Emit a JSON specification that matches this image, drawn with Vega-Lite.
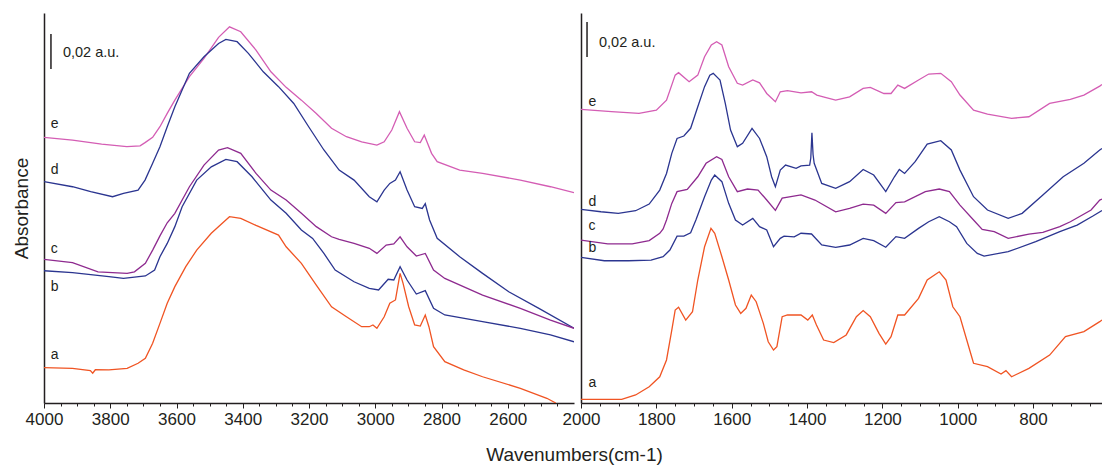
{
  "$schema": "https://vega.github.io/schema/vega-lite/v6.json",
  "background": "white",
  "padding": {"left": 12, "top": 13, "right": 0, "bottom": 4},
  "bounds": "flush",
  "spacing": 7,
  "config": {
    "view": {"stroke": null},
    "font": "Liberation Sans",
    "axis": {
      "grid": false,
      "domainColor": "#231f20",
      "domainWidth": 1.5,
      "tickColor": "#231f20",
      "tickWidth": 1,
      "labelFont": "Liberation Sans",
      "labelFontSize": 17,
      "labelColor": "#231f20",
      "titleFont": "Liberation Sans",
      "titleFontWeight": "normal",
      "titleColor": "#231f20"
    }
  },
  "datasets": {
    "left": [
      {"sample": "e", "wavenumber": 4000, "absorbance": 0.1518},
      {"sample": "e", "wavenumber": 3914, "absorbance": 0.1503},
      {"sample": "e", "wavenumber": 3826, "absorbance": 0.1480},
      {"sample": "e", "wavenumber": 3750, "absorbance": 0.1465},
      {"sample": "e", "wavenumber": 3710, "absorbance": 0.1470},
      {"sample": "e", "wavenumber": 3695, "absorbance": 0.1488},
      {"sample": "e", "wavenumber": 3672, "absorbance": 0.1518},
      {"sample": "e", "wavenumber": 3650, "absorbance": 0.1579},
      {"sample": "e", "wavenumber": 3628, "absorbance": 0.1655},
      {"sample": "e", "wavenumber": 3605, "absorbance": 0.1731},
      {"sample": "e", "wavenumber": 3561, "absorbance": 0.1865},
      {"sample": "e", "wavenumber": 3517, "absorbance": 0.1970},
      {"sample": "e", "wavenumber": 3473, "absorbance": 0.2090},
      {"sample": "e", "wavenumber": 3440, "absorbance": 0.2150},
      {"sample": "e", "wavenumber": 3406, "absorbance": 0.2122},
      {"sample": "e", "wavenumber": 3360, "absorbance": 0.2017},
      {"sample": "e", "wavenumber": 3315, "absorbance": 0.1893},
      {"sample": "e", "wavenumber": 3269, "absorbance": 0.1804},
      {"sample": "e", "wavenumber": 3223, "absorbance": 0.1731},
      {"sample": "e", "wavenumber": 3178, "absorbance": 0.1655},
      {"sample": "e", "wavenumber": 3132, "absorbance": 0.1570},
      {"sample": "e", "wavenumber": 3087, "absorbance": 0.1522},
      {"sample": "e", "wavenumber": 3041, "absorbance": 0.1493},
      {"sample": "e", "wavenumber": 2995, "absorbance": 0.1474},
      {"sample": "e", "wavenumber": 2973, "absorbance": 0.1493},
      {"sample": "e", "wavenumber": 2950, "absorbance": 0.1560},
      {"sample": "e", "wavenumber": 2927, "absorbance": 0.1665},
      {"sample": "e", "wavenumber": 2904, "absorbance": 0.1570},
      {"sample": "e", "wavenumber": 2881, "absorbance": 0.1493},
      {"sample": "e", "wavenumber": 2864, "absorbance": 0.1488},
      {"sample": "e", "wavenumber": 2852, "absorbance": 0.1531},
      {"sample": "e", "wavenumber": 2830, "absorbance": 0.1427},
      {"sample": "e", "wavenumber": 2813, "absorbance": 0.1379},
      {"sample": "e", "wavenumber": 2745, "absorbance": 0.1331},
      {"sample": "e", "wavenumber": 2676, "absorbance": 0.1312},
      {"sample": "e", "wavenumber": 2562, "absorbance": 0.1274},
      {"sample": "e", "wavenumber": 2471, "absorbance": 0.1236},
      {"sample": "e", "wavenumber": 2400, "absorbance": 0.1202},

      {"sample": "d", "wavenumber": 4000, "absorbance": 0.1265},
      {"sample": "d", "wavenumber": 3914, "absorbance": 0.1236},
      {"sample": "d", "wavenumber": 3859, "absorbance": 0.1208},
      {"sample": "d", "wavenumber": 3793, "absorbance": 0.1179},
      {"sample": "d", "wavenumber": 3760, "absorbance": 0.1198},
      {"sample": "d", "wavenumber": 3716, "absorbance": 0.1217},
      {"sample": "d", "wavenumber": 3695, "absorbance": 0.1274},
      {"sample": "d", "wavenumber": 3672, "absorbance": 0.1370},
      {"sample": "d", "wavenumber": 3650, "absorbance": 0.1465},
      {"sample": "d", "wavenumber": 3628, "absorbance": 0.1579},
      {"sample": "d", "wavenumber": 3605, "absorbance": 0.1693},
      {"sample": "d", "wavenumber": 3583, "absorbance": 0.1789},
      {"sample": "d", "wavenumber": 3561, "absorbance": 0.1884},
      {"sample": "d", "wavenumber": 3517, "absorbance": 0.1979},
      {"sample": "d", "wavenumber": 3473, "absorbance": 0.2055},
      {"sample": "d", "wavenumber": 3451, "absorbance": 0.2078},
      {"sample": "d", "wavenumber": 3417, "absorbance": 0.2065},
      {"sample": "d", "wavenumber": 3383, "absorbance": 0.1998},
      {"sample": "d", "wavenumber": 3338, "absorbance": 0.1893},
      {"sample": "d", "wavenumber": 3292, "absorbance": 0.1808},
      {"sample": "d", "wavenumber": 3246, "absorbance": 0.1712},
      {"sample": "d", "wavenumber": 3201, "absorbance": 0.1579},
      {"sample": "d", "wavenumber": 3155, "absorbance": 0.1446},
      {"sample": "d", "wavenumber": 3109, "absorbance": 0.1331},
      {"sample": "d", "wavenumber": 3064, "absorbance": 0.1274},
      {"sample": "d", "wavenumber": 3018, "absorbance": 0.1179},
      {"sample": "d", "wavenumber": 2995, "absorbance": 0.1150},
      {"sample": "d", "wavenumber": 2973, "absorbance": 0.1217},
      {"sample": "d", "wavenumber": 2956, "absorbance": 0.1255},
      {"sample": "d", "wavenumber": 2939, "absorbance": 0.1274},
      {"sample": "d", "wavenumber": 2925, "absorbance": 0.1322},
      {"sample": "d", "wavenumber": 2904, "absorbance": 0.1217},
      {"sample": "d", "wavenumber": 2881, "absorbance": 0.1122},
      {"sample": "d", "wavenumber": 2858, "absorbance": 0.1112},
      {"sample": "d", "wavenumber": 2849, "absorbance": 0.1139},
      {"sample": "d", "wavenumber": 2836, "absorbance": 0.1046},
      {"sample": "d", "wavenumber": 2813, "absorbance": 0.0941},
      {"sample": "d", "wavenumber": 2745, "absorbance": 0.0836},
      {"sample": "d", "wavenumber": 2676, "absorbance": 0.0741},
      {"sample": "d", "wavenumber": 2597, "absorbance": 0.0636},
      {"sample": "d", "wavenumber": 2506, "absorbance": 0.0541},
      {"sample": "d", "wavenumber": 2400, "absorbance": 0.0427},

      {"sample": "c", "wavenumber": 4000, "absorbance": 0.0821},
      {"sample": "c", "wavenumber": 3914, "absorbance": 0.0802},
      {"sample": "c", "wavenumber": 3837, "absorbance": 0.0750},
      {"sample": "c", "wavenumber": 3749, "absorbance": 0.0741},
      {"sample": "c", "wavenumber": 3727, "absorbance": 0.0750},
      {"sample": "c", "wavenumber": 3694, "absorbance": 0.0798},
      {"sample": "c", "wavenumber": 3672, "absorbance": 0.0874},
      {"sample": "c", "wavenumber": 3650, "absorbance": 0.0955},
      {"sample": "c", "wavenumber": 3628, "absorbance": 0.1030},
      {"sample": "c", "wavenumber": 3605, "absorbance": 0.1084},
      {"sample": "c", "wavenumber": 3561, "absorbance": 0.1236},
      {"sample": "c", "wavenumber": 3517, "absorbance": 0.1360},
      {"sample": "c", "wavenumber": 3473, "absorbance": 0.1446},
      {"sample": "c", "wavenumber": 3446, "absorbance": 0.1459},
      {"sample": "c", "wavenumber": 3406, "absorbance": 0.1427},
      {"sample": "c", "wavenumber": 3360, "absorbance": 0.1312},
      {"sample": "c", "wavenumber": 3315, "absorbance": 0.1217},
      {"sample": "c", "wavenumber": 3269, "absorbance": 0.1160},
      {"sample": "c", "wavenumber": 3223, "absorbance": 0.1084},
      {"sample": "c", "wavenumber": 3178, "absorbance": 0.1008},
      {"sample": "c", "wavenumber": 3132, "absorbance": 0.0950},
      {"sample": "c", "wavenumber": 3109, "absorbance": 0.0935},
      {"sample": "c", "wavenumber": 3064, "absorbance": 0.0912},
      {"sample": "c", "wavenumber": 3018, "absorbance": 0.0884},
      {"sample": "c", "wavenumber": 2995, "absorbance": 0.0855},
      {"sample": "c", "wavenumber": 2967, "absorbance": 0.0903},
      {"sample": "c", "wavenumber": 2944, "absorbance": 0.0909},
      {"sample": "c", "wavenumber": 2925, "absorbance": 0.0950},
      {"sample": "c", "wavenumber": 2904, "absorbance": 0.0893},
      {"sample": "c", "wavenumber": 2876, "absorbance": 0.0840},
      {"sample": "c", "wavenumber": 2849, "absorbance": 0.0855},
      {"sample": "c", "wavenumber": 2824, "absorbance": 0.0760},
      {"sample": "c", "wavenumber": 2790, "absorbance": 0.0712},
      {"sample": "c", "wavenumber": 2676, "absorbance": 0.0617},
      {"sample": "c", "wavenumber": 2562, "absorbance": 0.0541},
      {"sample": "c", "wavenumber": 2471, "absorbance": 0.0474},
      {"sample": "c", "wavenumber": 2400, "absorbance": 0.0427},

      {"sample": "b", "wavenumber": 4000, "absorbance": 0.0756},
      {"sample": "b", "wavenumber": 3914, "absorbance": 0.0745},
      {"sample": "b", "wavenumber": 3804, "absorbance": 0.0722},
      {"sample": "b", "wavenumber": 3760, "absorbance": 0.0712},
      {"sample": "b", "wavenumber": 3694, "absorbance": 0.0726},
      {"sample": "b", "wavenumber": 3666, "absorbance": 0.0760},
      {"sample": "b", "wavenumber": 3650, "absorbance": 0.0836},
      {"sample": "b", "wavenumber": 3628, "absorbance": 0.0912},
      {"sample": "b", "wavenumber": 3605, "absorbance": 0.1008},
      {"sample": "b", "wavenumber": 3583, "absorbance": 0.1122},
      {"sample": "b", "wavenumber": 3539, "absorbance": 0.1274},
      {"sample": "b", "wavenumber": 3495, "absorbance": 0.1350},
      {"sample": "b", "wavenumber": 3451, "absorbance": 0.1392},
      {"sample": "b", "wavenumber": 3417, "absorbance": 0.1379},
      {"sample": "b", "wavenumber": 3372, "absorbance": 0.1293},
      {"sample": "b", "wavenumber": 3315, "absorbance": 0.1160},
      {"sample": "b", "wavenumber": 3269, "absorbance": 0.1084},
      {"sample": "b", "wavenumber": 3223, "absorbance": 0.0989},
      {"sample": "b", "wavenumber": 3189, "absorbance": 0.0941},
      {"sample": "b", "wavenumber": 3155, "absorbance": 0.0855},
      {"sample": "b", "wavenumber": 3121, "absorbance": 0.0760},
      {"sample": "b", "wavenumber": 3064, "absorbance": 0.0693},
      {"sample": "b", "wavenumber": 3018, "absorbance": 0.0655},
      {"sample": "b", "wavenumber": 2990, "absorbance": 0.0646},
      {"sample": "b", "wavenumber": 2961, "absorbance": 0.0707},
      {"sample": "b", "wavenumber": 2944, "absorbance": 0.0703},
      {"sample": "b", "wavenumber": 2925, "absorbance": 0.0779},
      {"sample": "b", "wavenumber": 2904, "absorbance": 0.0703},
      {"sample": "b", "wavenumber": 2876, "absorbance": 0.0623},
      {"sample": "b", "wavenumber": 2849, "absorbance": 0.0642},
      {"sample": "b", "wavenumber": 2824, "absorbance": 0.0541},
      {"sample": "b", "wavenumber": 2790, "absorbance": 0.0503},
      {"sample": "b", "wavenumber": 2676, "absorbance": 0.0465},
      {"sample": "b", "wavenumber": 2562, "absorbance": 0.0427},
      {"sample": "b", "wavenumber": 2471, "absorbance": 0.0389},
      {"sample": "b", "wavenumber": 2400, "absorbance": 0.0350},

      {"sample": "a", "wavenumber": 4000, "absorbance": 0.0202},
      {"sample": "a", "wavenumber": 3914, "absorbance": 0.0198},
      {"sample": "a", "wavenumber": 3860, "absorbance": 0.0185},
      {"sample": "a", "wavenumber": 3853, "absorbance": 0.0170},
      {"sample": "a", "wavenumber": 3845, "absorbance": 0.0190},
      {"sample": "a", "wavenumber": 3804, "absorbance": 0.0189},
      {"sample": "a", "wavenumber": 3749, "absorbance": 0.0198},
      {"sample": "a", "wavenumber": 3716, "absorbance": 0.0227},
      {"sample": "a", "wavenumber": 3694, "absorbance": 0.0255},
      {"sample": "a", "wavenumber": 3672, "absorbance": 0.0341},
      {"sample": "a", "wavenumber": 3650, "absorbance": 0.0455},
      {"sample": "a", "wavenumber": 3628, "absorbance": 0.0570},
      {"sample": "a", "wavenumber": 3605, "absorbance": 0.0665},
      {"sample": "a", "wavenumber": 3572, "absorbance": 0.0779},
      {"sample": "a", "wavenumber": 3539, "absorbance": 0.0874},
      {"sample": "a", "wavenumber": 3495, "absorbance": 0.0970},
      {"sample": "a", "wavenumber": 3451, "absorbance": 0.1046},
      {"sample": "a", "wavenumber": 3440, "absorbance": 0.1065},
      {"sample": "a", "wavenumber": 3406, "absorbance": 0.1055},
      {"sample": "a", "wavenumber": 3360, "absorbance": 0.1015},
      {"sample": "a", "wavenumber": 3292, "absorbance": 0.0960},
      {"sample": "a", "wavenumber": 3269, "absorbance": 0.0893},
      {"sample": "a", "wavenumber": 3223, "absorbance": 0.0798},
      {"sample": "a", "wavenumber": 3178, "absorbance": 0.0674},
      {"sample": "a", "wavenumber": 3132, "absorbance": 0.0550},
      {"sample": "a", "wavenumber": 3087, "absorbance": 0.0493},
      {"sample": "a", "wavenumber": 3041, "absorbance": 0.0436},
      {"sample": "a", "wavenumber": 3018, "absorbance": 0.0436},
      {"sample": "a", "wavenumber": 3007, "absorbance": 0.0446},
      {"sample": "a", "wavenumber": 2995, "absorbance": 0.0427},
      {"sample": "a", "wavenumber": 2973, "absorbance": 0.0493},
      {"sample": "a", "wavenumber": 2956, "absorbance": 0.0570},
      {"sample": "a", "wavenumber": 2939, "absorbance": 0.0589},
      {"sample": "a", "wavenumber": 2925, "absorbance": 0.0741},
      {"sample": "a", "wavenumber": 2916, "absorbance": 0.0684},
      {"sample": "a", "wavenumber": 2899, "absorbance": 0.0550},
      {"sample": "a", "wavenumber": 2881, "absorbance": 0.0446},
      {"sample": "a", "wavenumber": 2864, "absorbance": 0.0440},
      {"sample": "a", "wavenumber": 2849, "absorbance": 0.0503},
      {"sample": "a", "wavenumber": 2838, "absorbance": 0.0436},
      {"sample": "a", "wavenumber": 2824, "absorbance": 0.0322},
      {"sample": "a", "wavenumber": 2790, "absorbance": 0.0236},
      {"sample": "a", "wavenumber": 2733, "absorbance": 0.0189},
      {"sample": "a", "wavenumber": 2676, "absorbance": 0.0150},
      {"sample": "a", "wavenumber": 2562, "absorbance": 0.0084},
      {"sample": "a", "wavenumber": 2482, "absorbance": 0.0027},
      {"sample": "a", "wavenumber": 2455, "absorbance": 0.0000}
    ],
    "right": [
      {"sample": "e", "wavenumber": 2000, "absorbance": 0.1678},
      {"sample": "e", "wavenumber": 1919, "absorbance": 0.1665},
      {"sample": "e", "wavenumber": 1846, "absorbance": 0.1655},
      {"sample": "e", "wavenumber": 1800, "absorbance": 0.1674},
      {"sample": "e", "wavenumber": 1773, "absorbance": 0.1731},
      {"sample": "e", "wavenumber": 1750, "absorbance": 0.1874},
      {"sample": "e", "wavenumber": 1741, "absorbance": 0.1888},
      {"sample": "e", "wavenumber": 1713, "absorbance": 0.1836},
      {"sample": "e", "wavenumber": 1690, "absorbance": 0.1874},
      {"sample": "e", "wavenumber": 1672, "absorbance": 0.1979},
      {"sample": "e", "wavenumber": 1654, "absorbance": 0.2046},
      {"sample": "e", "wavenumber": 1640, "absorbance": 0.2065},
      {"sample": "e", "wavenumber": 1626, "absorbance": 0.2046},
      {"sample": "e", "wavenumber": 1608, "absorbance": 0.1922},
      {"sample": "e", "wavenumber": 1585, "absorbance": 0.1827},
      {"sample": "e", "wavenumber": 1571, "absorbance": 0.1817},
      {"sample": "e", "wavenumber": 1544, "absorbance": 0.1846},
      {"sample": "e", "wavenumber": 1526, "absorbance": 0.1830},
      {"sample": "e", "wavenumber": 1507, "absorbance": 0.1769},
      {"sample": "e", "wavenumber": 1484, "absorbance": 0.1722},
      {"sample": "e", "wavenumber": 1471, "absorbance": 0.1779},
      {"sample": "e", "wavenumber": 1452, "absorbance": 0.1785},
      {"sample": "e", "wavenumber": 1416, "absorbance": 0.1773},
      {"sample": "e", "wavenumber": 1388, "absorbance": 0.1779},
      {"sample": "e", "wavenumber": 1374, "absorbance": 0.1760},
      {"sample": "e", "wavenumber": 1352, "absorbance": 0.1747},
      {"sample": "e", "wavenumber": 1324, "absorbance": 0.1731},
      {"sample": "e", "wavenumber": 1287, "absorbance": 0.1750},
      {"sample": "e", "wavenumber": 1251, "absorbance": 0.1798},
      {"sample": "e", "wavenumber": 1232, "absorbance": 0.1804},
      {"sample": "e", "wavenumber": 1196, "absorbance": 0.1769},
      {"sample": "e", "wavenumber": 1177, "absorbance": 0.1769},
      {"sample": "e", "wavenumber": 1159, "absorbance": 0.1817},
      {"sample": "e", "wavenumber": 1141, "absorbance": 0.1798},
      {"sample": "e", "wavenumber": 1104, "absorbance": 0.1846},
      {"sample": "e", "wavenumber": 1077, "absorbance": 0.1880},
      {"sample": "e", "wavenumber": 1045, "absorbance": 0.1884},
      {"sample": "e", "wavenumber": 1017, "absorbance": 0.1836},
      {"sample": "e", "wavenumber": 994, "absorbance": 0.1760},
      {"sample": "e", "wavenumber": 958, "absorbance": 0.1674},
      {"sample": "e", "wavenumber": 921, "absorbance": 0.1651},
      {"sample": "e", "wavenumber": 857, "absorbance": 0.1627},
      {"sample": "e", "wavenumber": 811, "absorbance": 0.1636},
      {"sample": "e", "wavenumber": 756, "absorbance": 0.1712},
      {"sample": "e", "wavenumber": 701, "absorbance": 0.1735},
      {"sample": "e", "wavenumber": 665, "absorbance": 0.1760},
      {"sample": "e", "wavenumber": 623, "absorbance": 0.1811},
      {"sample": "e", "wavenumber": 617, "absorbance": 0.1820},

      {"sample": "d", "wavenumber": 2000, "absorbance": 0.1107},
      {"sample": "d", "wavenumber": 1947, "absorbance": 0.1093},
      {"sample": "d", "wavenumber": 1901, "absorbance": 0.1084},
      {"sample": "d", "wavenumber": 1855, "absorbance": 0.1099},
      {"sample": "d", "wavenumber": 1819, "absorbance": 0.1137},
      {"sample": "d", "wavenumber": 1791, "absorbance": 0.1217},
      {"sample": "d", "wavenumber": 1773, "absorbance": 0.1312},
      {"sample": "d", "wavenumber": 1759, "absorbance": 0.1427},
      {"sample": "d", "wavenumber": 1745, "absorbance": 0.1512},
      {"sample": "d", "wavenumber": 1727, "absorbance": 0.1526},
      {"sample": "d", "wavenumber": 1709, "absorbance": 0.1570},
      {"sample": "d", "wavenumber": 1690, "absorbance": 0.1693},
      {"sample": "d", "wavenumber": 1672, "absorbance": 0.1808},
      {"sample": "d", "wavenumber": 1658, "absorbance": 0.1874},
      {"sample": "d", "wavenumber": 1649, "absorbance": 0.1884},
      {"sample": "d", "wavenumber": 1631, "absorbance": 0.1846},
      {"sample": "d", "wavenumber": 1617, "absorbance": 0.1712},
      {"sample": "d", "wavenumber": 1603, "absorbance": 0.1560},
      {"sample": "d", "wavenumber": 1585, "absorbance": 0.1465},
      {"sample": "d", "wavenumber": 1571, "absorbance": 0.1484},
      {"sample": "d", "wavenumber": 1546, "absorbance": 0.1570},
      {"sample": "d", "wavenumber": 1526, "absorbance": 0.1512},
      {"sample": "d", "wavenumber": 1507, "absorbance": 0.1408},
      {"sample": "d", "wavenumber": 1494, "absorbance": 0.1293},
      {"sample": "d", "wavenumber": 1484, "absorbance": 0.1236},
      {"sample": "d", "wavenumber": 1471, "absorbance": 0.1331},
      {"sample": "d", "wavenumber": 1457, "absorbance": 0.1360},
      {"sample": "d", "wavenumber": 1429, "absorbance": 0.1341},
      {"sample": "d", "wavenumber": 1416, "absorbance": 0.1355},
      {"sample": "d", "wavenumber": 1393, "absorbance": 0.1360},
      {"sample": "d", "wavenumber": 1390, "absorbance": 0.1400},
      {"sample": "d", "wavenumber": 1387, "absorbance": 0.1545},
      {"sample": "d", "wavenumber": 1384, "absorbance": 0.1420},
      {"sample": "d", "wavenumber": 1381, "absorbance": 0.1370},
      {"sample": "d", "wavenumber": 1361, "absorbance": 0.1255},
      {"sample": "d", "wavenumber": 1324, "absorbance": 0.1227},
      {"sample": "d", "wavenumber": 1287, "absorbance": 0.1265},
      {"sample": "d", "wavenumber": 1251, "absorbance": 0.1335},
      {"sample": "d", "wavenumber": 1223, "absorbance": 0.1303},
      {"sample": "d", "wavenumber": 1191, "absorbance": 0.1208},
      {"sample": "d", "wavenumber": 1168, "absorbance": 0.1293},
      {"sample": "d", "wavenumber": 1155, "absorbance": 0.1335},
      {"sample": "d", "wavenumber": 1141, "absorbance": 0.1312},
      {"sample": "d", "wavenumber": 1113, "absorbance": 0.1379},
      {"sample": "d", "wavenumber": 1081, "absorbance": 0.1480},
      {"sample": "d", "wavenumber": 1045, "absorbance": 0.1499},
      {"sample": "d", "wavenumber": 1017, "absorbance": 0.1446},
      {"sample": "d", "wavenumber": 994, "absorbance": 0.1331},
      {"sample": "d", "wavenumber": 958, "absorbance": 0.1179},
      {"sample": "d", "wavenumber": 921, "absorbance": 0.1103},
      {"sample": "d", "wavenumber": 866, "absorbance": 0.1055},
      {"sample": "d", "wavenumber": 829, "absorbance": 0.1084},
      {"sample": "d", "wavenumber": 774, "absorbance": 0.1189},
      {"sample": "d", "wavenumber": 720, "absorbance": 0.1293},
      {"sample": "d", "wavenumber": 665, "absorbance": 0.1370},
      {"sample": "d", "wavenumber": 623, "absorbance": 0.1446},
      {"sample": "d", "wavenumber": 617, "absorbance": 0.1455},

      {"sample": "c", "wavenumber": 2000, "absorbance": 0.0931},
      {"sample": "c", "wavenumber": 1929, "absorbance": 0.0909},
      {"sample": "c", "wavenumber": 1864, "absorbance": 0.0909},
      {"sample": "c", "wavenumber": 1819, "absorbance": 0.0928},
      {"sample": "c", "wavenumber": 1791, "absorbance": 0.0970},
      {"sample": "c", "wavenumber": 1782, "absorbance": 0.0995},
      {"sample": "c", "wavenumber": 1773, "absorbance": 0.1046},
      {"sample": "c", "wavenumber": 1759, "absorbance": 0.1141},
      {"sample": "c", "wavenumber": 1745, "absorbance": 0.1208},
      {"sample": "c", "wavenumber": 1718, "absorbance": 0.1221},
      {"sample": "c", "wavenumber": 1690, "absorbance": 0.1293},
      {"sample": "c", "wavenumber": 1668, "absorbance": 0.1370},
      {"sample": "c", "wavenumber": 1640, "absorbance": 0.1408},
      {"sample": "c", "wavenumber": 1626, "absorbance": 0.1392},
      {"sample": "c", "wavenumber": 1608, "absorbance": 0.1293},
      {"sample": "c", "wavenumber": 1585, "absorbance": 0.1208},
      {"sample": "c", "wavenumber": 1558, "absorbance": 0.1223},
      {"sample": "c", "wavenumber": 1530, "absorbance": 0.1217},
      {"sample": "c", "wavenumber": 1507, "absorbance": 0.1160},
      {"sample": "c", "wavenumber": 1484, "absorbance": 0.1101},
      {"sample": "c", "wavenumber": 1466, "absorbance": 0.1171},
      {"sample": "c", "wavenumber": 1416, "absorbance": 0.1189},
      {"sample": "c", "wavenumber": 1379, "absorbance": 0.1160},
      {"sample": "c", "wavenumber": 1324, "absorbance": 0.1093},
      {"sample": "c", "wavenumber": 1287, "absorbance": 0.1112},
      {"sample": "c", "wavenumber": 1251, "absorbance": 0.1137},
      {"sample": "c", "wavenumber": 1223, "absorbance": 0.1131},
      {"sample": "c", "wavenumber": 1191, "absorbance": 0.1084},
      {"sample": "c", "wavenumber": 1164, "absorbance": 0.1145},
      {"sample": "c", "wavenumber": 1141, "absorbance": 0.1150},
      {"sample": "c", "wavenumber": 1086, "absorbance": 0.1208},
      {"sample": "c", "wavenumber": 1049, "absorbance": 0.1223},
      {"sample": "c", "wavenumber": 1022, "absorbance": 0.1208},
      {"sample": "c", "wavenumber": 994, "absorbance": 0.1131},
      {"sample": "c", "wavenumber": 958, "absorbance": 0.1046},
      {"sample": "c", "wavenumber": 935, "absorbance": 0.0992},
      {"sample": "c", "wavenumber": 903, "absorbance": 0.0979},
      {"sample": "c", "wavenumber": 866, "absorbance": 0.0941},
      {"sample": "c", "wavenumber": 811, "absorbance": 0.0965},
      {"sample": "c", "wavenumber": 774, "absorbance": 0.0975},
      {"sample": "c", "wavenumber": 729, "absorbance": 0.1008},
      {"sample": "c", "wavenumber": 701, "absorbance": 0.1036},
      {"sample": "c", "wavenumber": 646, "absorbance": 0.1103},
      {"sample": "c", "wavenumber": 623, "absorbance": 0.1160},
      {"sample": "c", "wavenumber": 617, "absorbance": 0.1165},

      {"sample": "b", "wavenumber": 2000, "absorbance": 0.0832},
      {"sample": "b", "wavenumber": 1938, "absorbance": 0.0813},
      {"sample": "b", "wavenumber": 1874, "absorbance": 0.0813},
      {"sample": "b", "wavenumber": 1814, "absorbance": 0.0817},
      {"sample": "b", "wavenumber": 1782, "absorbance": 0.0836},
      {"sample": "b", "wavenumber": 1764, "absorbance": 0.0874},
      {"sample": "b", "wavenumber": 1745, "absorbance": 0.0954},
      {"sample": "b", "wavenumber": 1727, "absorbance": 0.0954},
      {"sample": "b", "wavenumber": 1709, "absorbance": 0.0973},
      {"sample": "b", "wavenumber": 1695, "absorbance": 0.1046},
      {"sample": "b", "wavenumber": 1672, "absorbance": 0.1179},
      {"sample": "b", "wavenumber": 1654, "absorbance": 0.1274},
      {"sample": "b", "wavenumber": 1645, "absorbance": 0.1303},
      {"sample": "b", "wavenumber": 1626, "absorbance": 0.1265},
      {"sample": "b", "wavenumber": 1608, "absorbance": 0.1141},
      {"sample": "b", "wavenumber": 1590, "absorbance": 0.1046},
      {"sample": "b", "wavenumber": 1571, "absorbance": 0.1017},
      {"sample": "b", "wavenumber": 1544, "absorbance": 0.1055},
      {"sample": "b", "wavenumber": 1526, "absorbance": 0.1008},
      {"sample": "b", "wavenumber": 1507, "absorbance": 0.0989},
      {"sample": "b", "wavenumber": 1489, "absorbance": 0.0893},
      {"sample": "b", "wavenumber": 1471, "absorbance": 0.0941},
      {"sample": "b", "wavenumber": 1461, "absorbance": 0.0954},
      {"sample": "b", "wavenumber": 1434, "absorbance": 0.0950},
      {"sample": "b", "wavenumber": 1416, "absorbance": 0.0970},
      {"sample": "b", "wavenumber": 1388, "absorbance": 0.0966},
      {"sample": "b", "wavenumber": 1361, "absorbance": 0.0903},
      {"sample": "b", "wavenumber": 1324, "absorbance": 0.0890},
      {"sample": "b", "wavenumber": 1287, "absorbance": 0.0903},
      {"sample": "b", "wavenumber": 1251, "absorbance": 0.0941},
      {"sample": "b", "wavenumber": 1223, "absorbance": 0.0928},
      {"sample": "b", "wavenumber": 1191, "absorbance": 0.0890},
      {"sample": "b", "wavenumber": 1164, "absorbance": 0.0951},
      {"sample": "b", "wavenumber": 1141, "absorbance": 0.0941},
      {"sample": "b", "wavenumber": 1104, "absorbance": 0.0998},
      {"sample": "b", "wavenumber": 1077, "absorbance": 0.1036},
      {"sample": "b", "wavenumber": 1049, "absorbance": 0.1065},
      {"sample": "b", "wavenumber": 1022, "absorbance": 0.1036},
      {"sample": "b", "wavenumber": 1003, "absorbance": 0.1008},
      {"sample": "b", "wavenumber": 976, "absorbance": 0.0912},
      {"sample": "b", "wavenumber": 948, "absorbance": 0.0855},
      {"sample": "b", "wavenumber": 930, "absorbance": 0.0840},
      {"sample": "b", "wavenumber": 866, "absorbance": 0.0865},
      {"sample": "b", "wavenumber": 793, "absorbance": 0.0922},
      {"sample": "b", "wavenumber": 729, "absorbance": 0.0979},
      {"sample": "b", "wavenumber": 683, "absorbance": 0.1017},
      {"sample": "b", "wavenumber": 640, "absorbance": 0.1070},
      {"sample": "b", "wavenumber": 617, "absorbance": 0.1100},

      {"sample": "a", "wavenumber": 2000, "absorbance": 0.0021},
      {"sample": "a", "wavenumber": 1892, "absorbance": 0.0021},
      {"sample": "a", "wavenumber": 1855, "absorbance": 0.0046},
      {"sample": "a", "wavenumber": 1819, "absorbance": 0.0093},
      {"sample": "a", "wavenumber": 1791, "absorbance": 0.0150},
      {"sample": "a", "wavenumber": 1773, "absorbance": 0.0246},
      {"sample": "a", "wavenumber": 1759, "absorbance": 0.0417},
      {"sample": "a", "wavenumber": 1750, "absorbance": 0.0531},
      {"sample": "a", "wavenumber": 1741, "absorbance": 0.0547},
      {"sample": "a", "wavenumber": 1722, "absorbance": 0.0474},
      {"sample": "a", "wavenumber": 1704, "absorbance": 0.0522},
      {"sample": "a", "wavenumber": 1690, "absorbance": 0.0703},
      {"sample": "a", "wavenumber": 1672, "absorbance": 0.0893},
      {"sample": "a", "wavenumber": 1655, "absorbance": 0.0998},
      {"sample": "a", "wavenumber": 1645, "absorbance": 0.0970},
      {"sample": "a", "wavenumber": 1626, "absorbance": 0.0836},
      {"sample": "a", "wavenumber": 1608, "absorbance": 0.0703},
      {"sample": "a", "wavenumber": 1590, "absorbance": 0.0560},
      {"sample": "a", "wavenumber": 1576, "absorbance": 0.0512},
      {"sample": "a", "wavenumber": 1562, "absorbance": 0.0541},
      {"sample": "a", "wavenumber": 1548, "absorbance": 0.0617},
      {"sample": "a", "wavenumber": 1535, "absorbance": 0.0579},
      {"sample": "a", "wavenumber": 1516, "absorbance": 0.0455},
      {"sample": "a", "wavenumber": 1503, "absorbance": 0.0350},
      {"sample": "a", "wavenumber": 1489, "absorbance": 0.0303},
      {"sample": "a", "wavenumber": 1480, "absorbance": 0.0322},
      {"sample": "a", "wavenumber": 1466, "absorbance": 0.0493},
      {"sample": "a", "wavenumber": 1452, "absorbance": 0.0503},
      {"sample": "a", "wavenumber": 1416, "absorbance": 0.0503},
      {"sample": "a", "wavenumber": 1398, "absorbance": 0.0474},
      {"sample": "a", "wavenumber": 1386, "absorbance": 0.0503},
      {"sample": "a", "wavenumber": 1375, "absorbance": 0.0446},
      {"sample": "a", "wavenumber": 1356, "absorbance": 0.0360},
      {"sample": "a", "wavenumber": 1329, "absorbance": 0.0345},
      {"sample": "a", "wavenumber": 1296, "absorbance": 0.0389},
      {"sample": "a", "wavenumber": 1269, "absorbance": 0.0493},
      {"sample": "a", "wavenumber": 1251, "absorbance": 0.0528},
      {"sample": "a", "wavenumber": 1232, "absorbance": 0.0493},
      {"sample": "a", "wavenumber": 1209, "absorbance": 0.0398},
      {"sample": "a", "wavenumber": 1191, "absorbance": 0.0337},
      {"sample": "a", "wavenumber": 1177, "absorbance": 0.0379},
      {"sample": "a", "wavenumber": 1159, "absorbance": 0.0503},
      {"sample": "a", "wavenumber": 1141, "absorbance": 0.0503},
      {"sample": "a", "wavenumber": 1104, "absorbance": 0.0598},
      {"sample": "a", "wavenumber": 1081, "absorbance": 0.0703},
      {"sample": "a", "wavenumber": 1049, "absorbance": 0.0750},
      {"sample": "a", "wavenumber": 1031, "absorbance": 0.0703},
      {"sample": "a", "wavenumber": 1013, "absorbance": 0.0550},
      {"sample": "a", "wavenumber": 994, "absorbance": 0.0493},
      {"sample": "a", "wavenumber": 976, "absorbance": 0.0360},
      {"sample": "a", "wavenumber": 958, "absorbance": 0.0227},
      {"sample": "a", "wavenumber": 921, "absorbance": 0.0208},
      {"sample": "a", "wavenumber": 885, "absorbance": 0.0166},
      {"sample": "a", "wavenumber": 872, "absorbance": 0.0185},
      {"sample": "a", "wavenumber": 857, "absorbance": 0.0150},
      {"sample": "a", "wavenumber": 811, "absorbance": 0.0198},
      {"sample": "a", "wavenumber": 756, "absorbance": 0.0274},
      {"sample": "a", "wavenumber": 714, "absorbance": 0.0379},
      {"sample": "a", "wavenumber": 665, "absorbance": 0.0408},
      {"sample": "a", "wavenumber": 623, "absorbance": 0.0465},
      {"sample": "a", "wavenumber": 617, "absorbance": 0.0475}
    ],
    "leftLabels": [
      {"sample": "e", "wavenumber": 3980, "absorbance": 0.1594},
      {"sample": "d", "wavenumber": 3980, "absorbance": 0.1331},
      {"sample": "c", "wavenumber": 3980, "absorbance": 0.0880},
      {"sample": "b", "wavenumber": 3980, "absorbance": 0.0663},
      {"sample": "a", "wavenumber": 3980, "absorbance": 0.0274}
    ],
    "rightLabels": [
      {"sample": "e", "wavenumber": 1980, "absorbance": 0.1720},
      {"sample": "d", "wavenumber": 1980, "absorbance": 0.1149},
      {"sample": "c", "wavenumber": 1980, "absorbance": 0.1011},
      {"sample": "b", "wavenumber": 1980, "absorbance": 0.0886},
      {"sample": "a", "wavenumber": 1980, "absorbance": 0.0114}
    ],
    "leftScaleBar": [
      {"wavenumber": 3979, "from": 0.1909, "to": 0.2109, "mid": 0.2000, "label": "0,02 a.u."}
    ],
    "rightScaleBar": [
      {"wavenumber": 1984, "from": 0.1977, "to": 0.2177, "mid": 0.2057, "label": "0,02 a.u."}
    ]
  },
  "hconcat": [
    {
      "width": 530,
      "height": 390,
      "encoding": {
        "x": {
          "field": "wavenumber",
          "type": "quantitative",
          "scale": {"domain": [4000, 2400], "nice": false, "zero": false},
          "axis": {
            "title": "Wavenumbers(cm-1)",
            "titleFontSize": 19,
            "titleX": 530,
            "titleY": 42,
            "titleAlign": "center",
            "titleBaseline": "top",
            "values": [4000, 3950, 3900, 3850, 3800, 3750, 3700, 3650, 3600, 3550, 3500, 3450, 3400, 3350, 3300, 3250, 3200, 3150, 3100, 3050, 3000, 2950, 2900, 2850, 2800, 2750, 2700, 2650, 2600, 2550, 2500, 2450],
            "labelExpr": "datum.value % 200 === 0 ? format(datum.value, 'd') : ''",
            "labelOverlap": false,
            "labelFlush": false,
            "labelBound": false,
            "labelDx": 5,
            "labelPadding": 3,
            "tickSize": {"condition": {"test": "datum.value % 200 === 0", "value": 5}, "value": 3}
          }
        },
        "y": {
          "field": "absorbance",
          "type": "quantitative",
          "scale": {"domain": [0, 0.2229], "nice": false, "zero": false},
          "axis": {"title": "Absorbance", "titleFontSize": 19, "titlePadding": 13, "labels": false, "ticks": false}
        }
      },
      "layer": [
        {
          "data": {"name": "left"},
          "mark": {"type": "line", "strokeWidth": 1.3, "clip": true},
          "encoding": {
            "color": {
              "field": "sample",
              "type": "nominal",
              "scale": {"domain": ["a", "b", "c", "d", "e"], "range": ["#f05423", "#2b3590", "#8e2a8f", "#2b3590", "#d45db4"]},
              "legend": null
            }
          }
        },
        {
          "data": {"name": "leftLabels"},
          "mark": {"type": "text", "align": "left", "baseline": "middle", "fontSize": 14, "color": "#231f20"},
          "encoding": {"text": {"field": "sample"}}
        },
        {
          "data": {"name": "leftScaleBar"},
          "mark": {"type": "rule", "strokeWidth": 1.5, "color": "#231f20"},
          "encoding": {"y": {"field": "from", "type": "quantitative"}, "y2": {"field": "to"}}
        },
        {
          "data": {"name": "leftScaleBar"},
          "mark": {"type": "text", "align": "left", "baseline": "middle", "dx": 12, "fontSize": 14.5, "color": "#231f20"},
          "encoding": {"y": {"field": "mid", "type": "quantitative"}, "text": {"field": "label"}}
        }
      ]
    },
    {
      "width": 521,
      "height": 390,
      "encoding": {
        "x": {
          "field": "wavenumber",
          "type": "quantitative",
          "scale": {"domain": [2000, 617], "nice": false, "zero": false},
          "axis": {
            "title": null,
            "values": [2000, 1950, 1900, 1850, 1800, 1750, 1700, 1650, 1600, 1550, 1500, 1450, 1400, 1350, 1300, 1250, 1200, 1150, 1100, 1050, 1000, 950, 900, 850, 800, 750, 700, 650],
            "labelExpr": "datum.value % 200 === 0 ? format(datum.value, 'd') : ''",
            "labelOverlap": false,
            "labelFlush": false,
            "labelBound": false,
            "labelDx": 5,
            "labelPadding": 3,
            "tickSize": {"condition": {"test": "datum.value % 200 === 0", "value": 5}, "value": 3}
          }
        },
        "y": {
          "field": "absorbance",
          "type": "quantitative",
          "scale": {"domain": [0, 0.2229], "nice": false, "zero": false},
          "axis": {"title": null, "labels": false, "ticks": false}
        }
      },
      "layer": [
        {
          "data": {"name": "right"},
          "mark": {"type": "line", "strokeWidth": 1.3, "clip": true},
          "encoding": {
            "color": {
              "field": "sample",
              "type": "nominal",
              "scale": {"domain": ["a", "b", "c", "d", "e"], "range": ["#f05423", "#2b3590", "#8e2a8f", "#2b3590", "#d45db4"]},
              "legend": null
            }
          }
        },
        {
          "data": {"name": "rightLabels"},
          "mark": {"type": "text", "align": "left", "baseline": "middle", "fontSize": 14, "color": "#231f20"},
          "encoding": {"text": {"field": "sample"}}
        },
        {
          "data": {"name": "rightScaleBar"},
          "mark": {"type": "rule", "strokeWidth": 1.5, "color": "#231f20"},
          "encoding": {"y": {"field": "from", "type": "quantitative"}, "y2": {"field": "to"}}
        },
        {
          "data": {"name": "rightScaleBar"},
          "mark": {"type": "text", "align": "left", "baseline": "middle", "dx": 12, "fontSize": 14.5, "color": "#231f20"},
          "encoding": {"y": {"field": "mid", "type": "quantitative"}, "text": {"field": "label"}}
        }
      ]
    }
  ]
}
